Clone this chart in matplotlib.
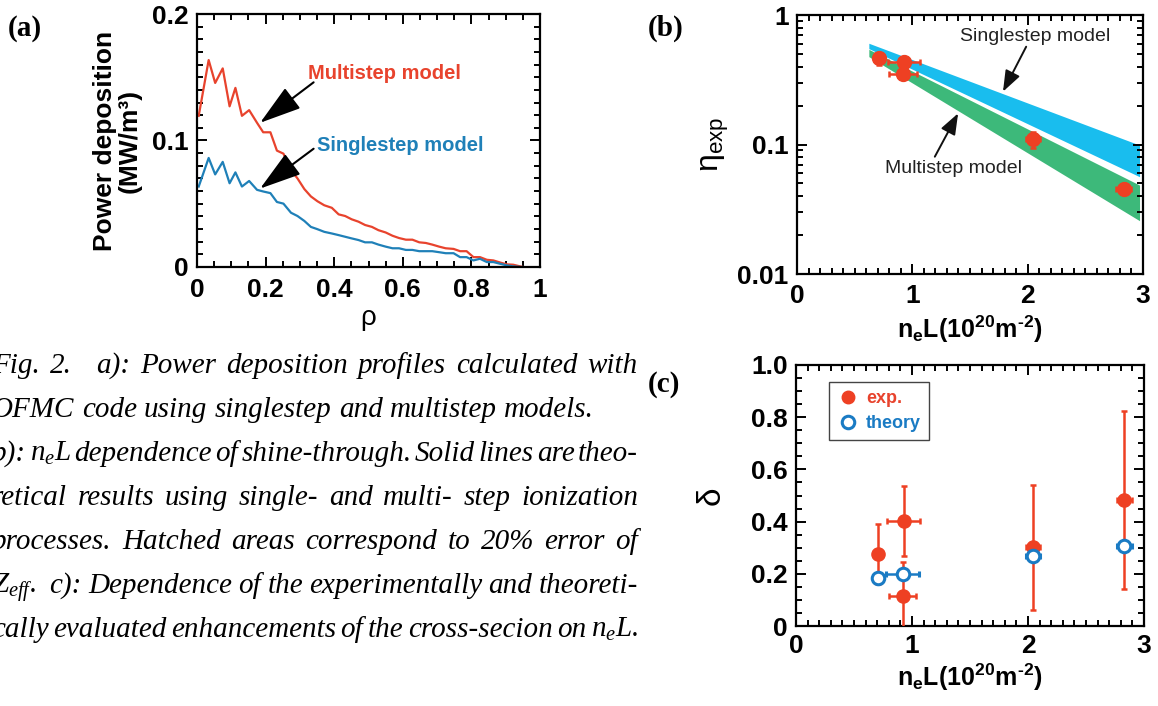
import matplotlib
matplotlib.use("Agg")
import matplotlib.pyplot as plt
from matplotlib.ticker import MultipleLocator, LogLocator, NullFormatter, FixedLocator, FixedFormatter
from matplotlib.lines import Line2D

plt.rcParams['font.family'] = ['Liberation Sans', 'DejaVu Sans']
plt.rcParams['mathtext.fontset'] = 'custom'
plt.rcParams['mathtext.rm'] = 'Liberation Sans'
plt.rcParams['mathtext.bf'] = 'Liberation Sans:bold'
plt.rcParams['mathtext.it'] = 'Liberation Serif:italic'

# ---------------- data ----------------
# (a) power deposition profiles
rho = [0.005, 0.034, 0.053, 0.075, 0.095, 0.112, 0.131, 0.152, 0.175, 0.193,
       0.214, 0.233, 0.252, 0.274, 0.293, 0.313, 0.332, 0.351, 0.371, 0.393,
       0.413, 0.432, 0.451, 0.471, 0.490, 0.510, 0.529, 0.550, 0.570, 0.589,
       0.609, 0.628, 0.648, 0.667, 0.686, 0.706, 0.725, 0.748, 0.767, 0.786,
       0.806, 0.825, 0.845, 0.864, 0.883, 0.903, 0.922, 0.942, 0.951]
multistep_power = [0.1195, 0.1636, 0.1455, 0.157, 0.127, 0.1416, 0.1195, 0.124, 0.114, 0.1065,
                   0.1065, 0.092, 0.0896, 0.0766, 0.070, 0.0616, 0.0558, 0.052, 0.0488, 0.0468,
                   0.0416, 0.0403, 0.0377, 0.0358, 0.0332, 0.0317, 0.0291, 0.0273, 0.0247, 0.0229,
                   0.0216, 0.0216, 0.0195, 0.019, 0.0177, 0.0161, 0.0148, 0.0143, 0.0125, 0.0125,
                   0.0078, 0.0078, 0.0057, 0.0052, 0.0036, 0.0021, 0.0018, 0.0005, 0.0]
singlestep_power = [0.0636, 0.0862, 0.0732, 0.0831, 0.0662, 0.0748, 0.0636, 0.068, 0.061, 0.0597,
                    0.0584, 0.0514, 0.0501, 0.0429, 0.0403, 0.0364, 0.0317, 0.0299, 0.0278, 0.0265,
                    0.0252, 0.0239, 0.0226, 0.0213, 0.0195, 0.0195, 0.0177, 0.0161, 0.0148, 0.0148,
                    0.0135, 0.0135, 0.0125, 0.0125, 0.0125, 0.0117, 0.0109, 0.0109, 0.0078, 0.0078,
                    0.0052, 0.0065, 0.0039, 0.0039, 0.0026, 0.0013, 0.0005, 0.0, 0.0]

# (b) shine-through
band_x = [0.623, 2.97]
single_hi = [0.605, 0.099]
single_lo = [0.55, 0.0564]
multi_hi = [0.543, 0.0486]
multi_lo = [0.477, 0.0258]
x_eta = [0.71, 0.929, 0.92, 2.046, 2.831]
x_eta_err = [0.03, 0.136, 0.123, 0.06, 0.065]
eta = [0.463, 0.436, 0.348, 0.1096, 0.0453]
eta_err = [0.05, 0.02, 0.02, 0.015, 0.004]

# (c) enhancement
x_exp = [0.703, 0.927, 0.919, 2.047, 2.828]
x_exp_err = [0.02, 0.144, 0.115, 0.06, 0.065]
d_exp = [0.276, 0.404, 0.116, 0.301, 0.483]
d_exp_err = [0.115, 0.134, 0.128, 0.238, 0.342]
x_th = [0.703, 0.919, 2.047, 2.828]
x_th_err = [0.02, 0.144, 0.06, 0.065]
d_th = [0.185, 0.199, 0.268, 0.307]

caption_lines = [
    "Fig. 2.   a): Power deposition profiles calculated with",
    "OFMC code using singlestep and multistep models.",
    "b): $n_eL$ dependence of shine-through. Solid lines are theo-",
    "retical results using single- and multi- step ionization",
    "processes. Hatched areas correspond to 20% error of",
    "$Z_{eff}$.  c): Dependence of the experimentally and theoreti-",
    "cally evaluated enhancements of the cross-secion on $n_eL$.",
]
caption_justify = [True, False, True, True, True, True, True]

XLABEL = '$\\mathbf{n_eL(10^{20}m^{\u20102})}$'

# ---------------- style ----------------
RED = '#e8432d'
BLUE_LINE = '#1f80b8'
BAND_BLUE = '#19bdee'
BAND_GREEN = '#3db97a'
MRED = '#ee4023'
TH_BLUE = '#1a7bc4'

W, H = 1158, 706
fig = plt.figure(figsize=(W / 100, H / 100), dpi=100)


def px_axes(l, t, r, b):
    return fig.add_axes([l / W, 1 - b / H, (r - l) / W, (b - t) / H])


def style_axes(ax, lw=1.6):
    for s in ax.spines.values():
        s.set_linewidth(lw)
    ax.tick_params(which='both', direction='in', top=True, right=True, width=1.4)
    ax.tick_params(which='major', length=7)
    ax.tick_params(which='minor', length=4)


# ---------------- (a) ----------------
axa = px_axes(197, 14, 540, 267)
axa.plot(rho, multistep_power, color=RED, lw=1.6)
axa.plot(rho, singlestep_power, color=BLUE_LINE, lw=1.6)
axa.set_xlim(0, 1)
axa.set_ylim(0, 0.2)
axa.set_xticks([0, 0.2, 0.4, 0.6, 0.8, 1.0], labels=['0', '0.2', '0.4', '0.6', '0.8', '1'])
axa.set_yticks([0, 0.1, 0.2], labels=['0', '0.1', '0.2'])
axa.xaxis.set_minor_locator(MultipleLocator(0.05))
axa.yaxis.set_minor_locator(MultipleLocator(0.01))
style_axes(axa)
for lab in axa.get_xticklabels() + axa.get_yticklabels():
    lab.set_fontweight('bold')
    lab.set_fontsize(19)
axa.tick_params(axis='x', pad=8)
axa.tick_params(axis='y', pad=6)
axa.set_xlabel('ρ', fontsize=20, labelpad=2)
axa.set_ylabel('Power deposition\n(MW/m³)', fontsize=19, fontweight='bold', linespacing=1.05)
axa.yaxis.set_label_coords(-0.16, 0.5)

arrow_a = dict(arrowstyle='-|>,head_length=1.3,head_width=0.4', color='black',
               lw=1.5, shrinkA=0, shrinkB=0, mutation_scale=20)
axa.annotate('', xy=(0.184, 0.114), xytext=(0.34, 0.146), arrowprops=arrow_a)
axa.annotate('', xy=(0.184, 0.062), xytext=(0.34, 0.0935), arrowprops=arrow_a)
axa.text(0.325, 0.153, 'Multistep model', color=RED, fontsize=14.5, fontweight='bold',
         ha='left', va='center')
axa.text(0.35, 0.096, 'Singlestep model', color=BLUE_LINE, fontsize=14.5, fontweight='bold',
         ha='left', va='center')

# ---------------- (b) ----------------
axb = px_axes(797, 15, 1143, 274)
axb.set_yscale('log')
axb.fill_between(band_x, single_lo, single_hi, color=BAND_BLUE, lw=0, zorder=1)
axb.fill_between(band_x, multi_lo, multi_hi, color=BAND_GREEN, lw=0, zorder=1)
axb.errorbar(x_eta, eta, yerr=eta_err, xerr=x_eta_err, fmt='o', color=MRED, ms=10,
             elinewidth=1.8, capsize=2.5, capthick=1.8, zorder=3)
axb.set_xlim(0, 3)
axb.set_ylim(0.01, 1)
axb.yaxis.set_major_locator(FixedLocator([0.01, 0.1, 1]))
axb.yaxis.set_major_formatter(FixedFormatter(['0.01', '0.1', '1']))
axb.yaxis.set_minor_locator(LogLocator(base=10, subs=range(2, 10)))
axb.yaxis.set_minor_formatter(NullFormatter())
axb.set_xticks([0, 1, 2, 3], labels=['0', '1', '2', '3'])
axb.xaxis.set_minor_locator(MultipleLocator(0.1))
style_axes(axb)
for lab in axb.get_xticklabels() + axb.get_yticklabels():
    lab.set_fontweight('bold')
    lab.set_fontsize(19)
axb.tick_params(axis='x', pad=7)
axb.tick_params(axis='y', pad=6)
axb.set_ylabel(r'$\mathrm{η_{exp}}$', fontsize=23)
axb.yaxis.set_label_coords(-0.19, 0.5)
axb.set_xlabel(XLABEL, fontsize=18, labelpad=4)
axb.text(1.411, 0.68, 'Singlestep model', fontsize=14, ha='left', va='center', color='#222222')
axb.text(0.762, 0.0655, 'Multistep model', fontsize=14, ha='left', va='center', color='#222222')
arrow_b = dict(arrowstyle='-|>,head_length=0.8,head_width=0.3', color='#111111',
               lw=1.4, shrinkA=0, shrinkB=0, mutation_scale=16)
axb.annotate('', xy=(1.786, 0.256), xytext=(1.987, 0.569), arrowprops=arrow_b)
axb.annotate('', xy=(1.397, 0.174), xytext=(1.195, 0.0805), arrowprops=arrow_b)

# ---------------- (c) ----------------
axc = px_axes(796, 365, 1144, 626)
axc.errorbar(x_exp, d_exp, yerr=d_exp_err, xerr=x_exp_err, fmt='o', color=MRED, ms=9.5,
             elinewidth=1.8, capsize=2.5, capthick=1.8, zorder=3)
axc.errorbar(x_th, d_th, xerr=x_th_err, fmt='o', color=TH_BLUE, mfc='white', mec=TH_BLUE,
             ms=9, mew=2.2, elinewidth=1.8, capsize=2.5, capthick=1.8, zorder=4)
axc.set_xlim(0, 3)
axc.set_ylim(0, 1)
axc.set_xticks([0, 1, 2, 3], labels=['0', '1', '2', '3'])
axc.set_yticks([0, 0.2, 0.4, 0.6, 0.8, 1.0], labels=['0', '0.2', '0.4', '0.6', '0.8', '1.0'])
axc.xaxis.set_minor_locator(MultipleLocator(0.1))
axc.yaxis.set_minor_locator(MultipleLocator(0.05))
style_axes(axc)
for lab in axc.get_xticklabels() + axc.get_yticklabels():
    lab.set_fontweight('bold')
    lab.set_fontsize(19)
axc.tick_params(axis='x', pad=6)
axc.tick_params(axis='y', pad=6)
axc.set_ylabel('δ', fontsize=24)
axc.yaxis.set_label_coords(-0.2, 0.5)
axc.set_xlabel(XLABEL, fontsize=18, labelpad=2)
handles = [Line2D([], [], marker='o', ls='none', color=MRED, ms=9),
           Line2D([], [], marker='o', ls='none', color=TH_BLUE, mfc='white', mew=2.2, ms=9)]
leg = axc.legend(handles, ['exp.', 'theory'], loc='upper left', bbox_to_anchor=(0.095, 0.935),
                 frameon=True, fancybox=False, edgecolor='#444444', framealpha=1,
                 prop={'weight': 'bold', 'size': 13}, handletextpad=0.4, borderpad=0.45,
                 labelspacing=0.45, handlelength=1.2, borderaxespad=0)
leg.get_frame().set_linewidth(1.0)
for t, c in zip(leg.get_texts(), [RED, TH_BLUE]):
    t.set_color(c)

# ---------------- panel labels ----------------
for lbl, x, y in [('(a)', 8, 28), ('(b)', 648, 28), ('(c)', 648, 385)]:
    fig.text(x / W, 1 - y / H, lbl, family='Liberation Serif', fontweight='bold', fontsize=21,
             ha='left', va='center')

# ---------------- caption (justified) ----------------
cap_size = 21
left_px, right_px = -8, 638
base0, step = 373, 44
fig.canvas.draw()
renderer = fig.canvas.get_renderer()
space_px = 0.25 * cap_size * 100 / 72
for i, (line, just) in enumerate(zip(caption_lines, caption_justify)):
    yb = 1 - (base0 + i * step) / H
    parts = line.split(' ')
    words, extra = [], []
    pend = 0
    for p in parts:
        if p == '':
            pend += 1
        else:
            words.append(p)
            extra.append(pend)
            pend = 0
    texts = [fig.text(0, yb, w, family='Liberation Serif', style='italic', fontsize=cap_size,
                      ha='left', va='baseline') for w in words]
    widths = [t.get_window_extent(renderer).width for t in texts]
    n_gaps = len(words) - 1
    natural = sum(widths) + space_px * (n_gaps + sum(extra))
    if just and n_gaps > 0:
        add = (right_px - left_px - natural) / n_gaps
    else:
        add = 0
    x = left_px
    for k, (t, w) in enumerate(zip(texts, widths)):
        if k > 0:
            x += space_px * (1 + extra[k]) + add
        t.set_x(x / W)
        x += w

fig.savefig('out.png', dpi=100)
